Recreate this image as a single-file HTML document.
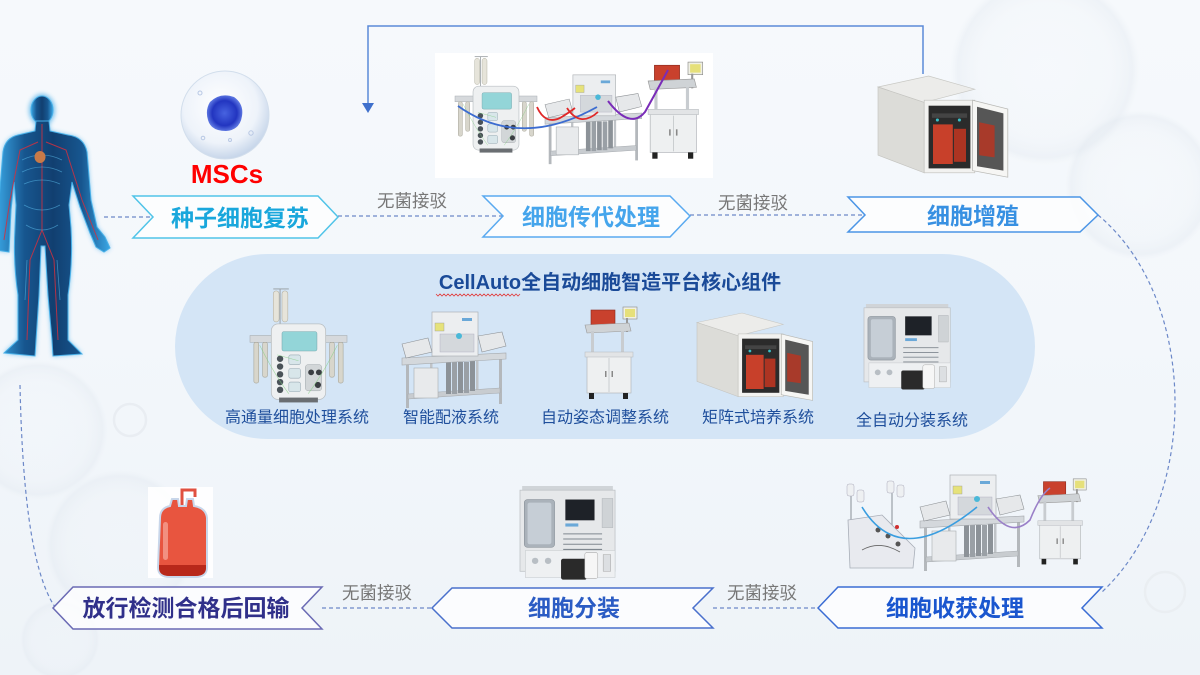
<!DOCTYPE html>
<html><head><meta charset="utf-8"><style>
html,body{margin:0;padding:0;width:1200px;height:675px;overflow:hidden;background:#f4f8fb;}
svg{display:block;}
text{font-family:"Liberation Sans","Noto Sans CJK SC",sans-serif;}
</style></head><body>
<svg width="1200" height="675" viewBox="0 0 1200 675" xmlns="http://www.w3.org/2000/svg">
<defs>
<linearGradient id="bg" x1="0" y1="0" x2="0" y2="1">
<stop offset="0" stop-color="#f6f9fc"/><stop offset="0.5" stop-color="#f3f7fb"/><stop offset="1" stop-color="#eef3f8"/>
</linearGradient>
<radialGradient id="ring" cx="0.5" cy="0.5" r="0.5">
<stop offset="0" stop-color="#eef2f7" stop-opacity="0"/><stop offset="0.7" stop-color="#e8edf3" stop-opacity="0.12"/><stop offset="0.92" stop-color="#dfe6ee" stop-opacity="0.35"/><stop offset="1" stop-color="#e8edf3" stop-opacity="0"/>
</radialGradient>
<linearGradient id="body" x1="0" y1="0" x2="1" y2="0">
<stop offset="0" stop-color="#3aa6e4"/><stop offset="0.25" stop-color="#17568f"/><stop offset="0.5" stop-color="#113f70"/><stop offset="0.75" stop-color="#17568f"/><stop offset="1" stop-color="#3aa6e4"/>
</linearGradient>
<filter id="glow" x="-20%" y="-20%" width="140%" height="140%"><feGaussianBlur stdDeviation="2.5"/></filter>
<radialGradient id="cell" cx="0.45" cy="0.4" r="0.6">
<stop offset="0" stop-color="#ffffff"/><stop offset="0.7" stop-color="#eef3fa"/><stop offset="1" stop-color="#c7d6ea"/>
</radialGradient>
<radialGradient id="nuc" cx="0.5" cy="0.5" r="0.5">
<stop offset="0" stop-color="#4763e0"/><stop offset="0.7" stop-color="#2235c0"/><stop offset="1" stop-color="#5a74e0"/>
</radialGradient>

<g id="P">
 <line x1="24" y1="2" x2="40" y2="2" stroke="#9aa0a4" stroke-width="1"/>
 <line x1="31" y1="2" x2="31" y2="45" stroke="#9aa0a4" stroke-width="1"/>
 <rect x="24" y="4" width="6" height="32" rx="3" fill="#e6e4da" stroke="#b4b2a4" stroke-width="0.6"/>
 <rect x="33" y="4" width="6" height="32" rx="3" fill="#e6e4da" stroke="#b4b2a4" stroke-width="0.6"/>
 <rect x="0" y="50" width="100" height="7" fill="#d6d9dc" stroke="#a8aeb2" stroke-width="0.6"/>
 <rect x="4" y="57" width="5" height="42" rx="2" fill="#d8d6cc" stroke="#a6a498" stroke-width="0.6"/>
 <rect x="13" y="57" width="5" height="36" rx="2" fill="#d8d6cc" stroke="#a6a498" stroke-width="0.6"/>
 <rect x="82" y="57" width="5" height="36" rx="2" fill="#d8d6cc" stroke="#a6a498" stroke-width="0.6"/>
 <rect x="91" y="57" width="5" height="42" rx="2" fill="#d8d6cc" stroke="#a6a498" stroke-width="0.6"/>
 <rect x="22" y="38" width="56" height="78" rx="7" fill="#eef0f1" stroke="#b9bec2" stroke-width="0.8"/>
 <rect x="33" y="46" width="36" height="20" rx="2" fill="#93d5d8" stroke="#7aaab0" stroke-width="0.6"/>
 <circle cx="31" cy="74" r="3.3" fill="#4a5258"/><circle cx="31" cy="82" r="3.3" fill="#4a5258"/>
 <circle cx="31" cy="90" r="3.3" fill="#4a5258"/><circle cx="31" cy="98" r="3.3" fill="#4a5258"/>
 <circle cx="31" cy="106" r="3.3" fill="#4a5258"/>
 <rect x="40" y="70" width="12" height="10" rx="2" fill="#d8e6ea" stroke="#9aaab4" stroke-width="0.6"/>
 <rect x="40" y="84" width="12" height="10" rx="2" fill="#d8e6ea" stroke="#9aaab4" stroke-width="0.6"/>
 <rect x="40" y="98" width="12" height="10" rx="2" fill="#d8e6ea" stroke="#9aaab4" stroke-width="0.6"/>
 <rect x="57" y="80" width="17" height="27" rx="3" fill="#d2d6d8" stroke="#a0a6aa" stroke-width="0.5"/>
 <circle cx="63" cy="88" r="3" fill="#3a3e42"/><circle cx="71" cy="88" r="3" fill="#3a3e42"/><circle cx="70" cy="101" r="3.2" fill="#3a3e42"/>
 <path d="M10 60 Q25 90 40 110 M90 60 Q75 90 60 110 M28 70 L50 76" stroke="#7ccf7c" stroke-width="0.6" fill="none" opacity="0.7"/>
 <rect x="30" y="114" width="40" height="5" fill="#6a6e72"/>
</g>

<g id="T">
 <rect x="4" y="50" width="3" height="48" fill="#b4b8bc"/>
 <rect x="97" y="47" width="3" height="47" fill="#b4b8bc"/>
 <rect x="28" y="50" width="2.5" height="38" fill="#c0c4c8"/>
 <rect x="74" y="48" width="2.5" height="36" fill="#c0c4c8"/>
 <polygon points="6,84 98,78 98,83 6,89" fill="#c8ccd0" stroke="#a4a8ac" stroke-width="0.5"/>
 <rect x="44" y="52" width="5" height="32" fill="#8c9298"/><rect x="50" y="52" width="5" height="32" fill="#9aa0a6"/>
 <rect x="56" y="52" width="5" height="31" fill="#8c9298"/><rect x="62" y="52" width="5" height="31" fill="#9aa0a6"/>
 <rect x="68" y="51" width="5" height="30" fill="#8c9298"/>
 <rect x="12" y="58" width="24" height="30" fill="#e8eaec" stroke="#a8acb0" stroke-width="0.6"/>
 <polygon points="0,48 104,43 104,49 0,55" fill="#d4d8dc" stroke="#a4a8ac" stroke-width="0.6"/>
 <rect x="30" y="2" width="46" height="44" fill="#eceef0" stroke="#aeb2b6" stroke-width="0.7"/>
 <rect x="38" y="24" width="34" height="18" fill="#d4d8dc" stroke="#aab" stroke-width="0.4"/>
 <rect x="33" y="13" width="9" height="8" fill="#e6e27a" stroke="#999" stroke-width="0.4"/>
 <circle cx="57" cy="26" r="3" fill="#4ab8d8"/>
 <rect x="60" y="8" width="10" height="3" fill="#6aa8d8"/>
 <polygon points="0,34 26,28 30,42 4,48" fill="#e6e8ea" stroke="#8e9296" stroke-width="0.6"/>
 <polygon points="76,26 100,22 104,36 80,42" fill="#e6e8ea" stroke="#8e9296" stroke-width="0.6"/>
</g>

<g id="A">
 <rect x="40" y="2" width="14" height="12" fill="#f0f0e4" stroke="#888" stroke-width="0.6"/>
 <rect x="42" y="4" width="10" height="8" fill="#e6e07a"/>
 <rect x="43" y="13" width="2" height="14" fill="#999"/>
 <rect x="8" y="5" width="24" height="16" fill="#c9412d" stroke="#8a2a1e" stroke-width="0.6"/>
 <polygon points="2,20 46,18 48,26 4,28" fill="#cfd3d6" stroke="#999" stroke-width="0.6"/>
 <rect x="8" y="26" width="3" height="26" fill="#c8ccd0"/>
 <rect x="38" y="26" width="3" height="26" fill="#c8ccd0"/>
 <rect x="4" y="50" width="44" height="38" fill="#eef0f1" stroke="#b4b8bc" stroke-width="0.7"/>
 <rect x="2" y="47" width="48" height="5" fill="#e2e4e6" stroke="#b4b8bc" stroke-width="0.5"/>
 <line x1="26" y1="53" x2="26" y2="87" stroke="#b4b8bc" stroke-width="0.6"/>
 <rect x="22" y="66" width="1.5" height="6" fill="#888"/><rect x="28.5" y="66" width="1.5" height="6" fill="#888"/>
 <rect x="6" y="88" width="5" height="6" fill="#222"/><rect x="40" y="88" width="5" height="6" fill="#222"/>
</g>

<g id="I">
 <polygon points="0,10 46,0 88,12 42,24" fill="#ececea" stroke="#c8c8c4" stroke-width="0.6"/>
 <polygon points="0,10 42,24 42,88 0,72" fill="#dcdcd8" stroke="#c4c4c0" stroke-width="0.6"/>
 <rect x="42" y="22" width="46" height="66" fill="#f2f2f0" stroke="#c2c2be" stroke-width="0.6"/>
 <rect x="46" y="27" width="38" height="57" fill="#2b2b2b"/>
 <rect x="49" y="34" width="32" height="4" fill="#444"/>
 <rect x="50" y="44" width="18" height="36" fill="#c8402a"/>
 <rect x="69" y="48" width="11" height="30" fill="#ad3422"/>
 <circle cx="54" cy="40" r="1.4" fill="#3ac0c8"/><circle cx="74" cy="40" r="1.4" fill="#3ac0c8"/>
 <polygon points="86,22 118,30 118,92 86,86" fill="#f6f6f4" stroke="#b8b8b4" stroke-width="0.7"/>
 <polygon points="90,28 114,34 114,86 90,82" fill="#3a3a3a" opacity="0.85"/>
 <polygon points="92,42 106,45 106,74 92,72" fill="#a83a2a"/>
</g>

<g id="D">
 <rect x="2" y="0" width="84" height="6" fill="#d0d4d8"/>
 <rect x="0" y="4" width="88" height="78" fill="#e6e8ea" stroke="#bcc0c4" stroke-width="0.7"/>
 <rect x="4" y="13" width="28" height="46" rx="3" fill="#aab2ba" stroke="#8c949c" stroke-width="0.6"/>
 <rect x="7" y="16" width="22" height="40" rx="2" fill="#c6ced6"/>
 <rect x="42" y="13" width="27" height="20" fill="#1e2228"/>
 <rect x="76" y="12" width="10" height="28" fill="#cfd3d6" stroke="#a8acb0" stroke-width="0.4"/>
 <rect x="42" y="36" width="12" height="3" fill="#6aa8d8"/>
 <g stroke="#808890" stroke-width="1"><line x1="40" y1="46" x2="76" y2="46"/><line x1="40" y1="51" x2="76" y2="51"/><line x1="40" y1="56" x2="76" y2="56"/><line x1="40" y1="61" x2="76" y2="61"/></g>
 <rect x="5" y="62" width="83" height="26" fill="#eef0f2" stroke="#c4c8cc" stroke-width="0.5"/>
 <circle cx="14" cy="72" r="3" fill="#b8bec4"/><circle cx="26" cy="72" r="3" fill="#b8bec4"/>
 <rect x="38" y="70" width="24" height="20" rx="2" fill="#2a2a2a"/>
 <rect x="60" y="64" width="12" height="25" rx="2" fill="#f6f6f6" stroke="#aaa" stroke-width="0.5"/>
 <rect x="77" y="66" width="7" height="16" fill="#dcdfe2" stroke="#999" stroke-width="0.4"/>
</g>
</defs>

<!-- background -->
<rect width="1200" height="675" fill="url(#bg)"/>
<circle cx="1045" cy="70" r="95" fill="url(#ring)"/>
<circle cx="1140" cy="185" r="75" fill="url(#ring)"/>
<circle cx="38" cy="430" r="70" fill="url(#ring)"/>
<circle cx="120" cy="545" r="75" fill="url(#ring)"/>
<circle cx="130" cy="420" r="16" fill="none" stroke="#e9edf2" stroke-width="2.5"/>
<circle cx="1165" cy="592" r="20" fill="none" stroke="#eaeef2" stroke-width="2.5"/>
<circle cx="60" cy="640" r="40" fill="url(#ring)"/>

<!-- central panel -->
<rect x="175" y="254" width="860" height="185" rx="92.5" fill="#d4e5f6"/>
<text x="610" y="283" font-size="20" font-weight="bold" fill="#1a4a98" text-anchor="middle" dominant-baseline="central">CellAuto全自动细胞智造平台核心组件</text>
<path d="M436 294 l2 2 l2 -2 l2 2 l2 -2 l2 2 l2 -2 l2 2 l2 -2 l2 2 l2 -2 l2 2 l2 -2 l2 2 l2 -2 l2 2 l2 -2 l2 2 l2 -2 l2 2 l2 -2 l2 2 l2 -2 l2 2 l2 -2 l2 2 l2 -2 l2 2 l2 -2 l2 2 l2 -2 l2 2 l2 -2 l2 2 l2 -2 l2 2 l2 -2 l2 2 l2 -2 l2 2 l2 -2 l2 2 l2 -2" stroke="#e03a3a" stroke-width="0.8" fill="none"/>

<use href="#P" transform="translate(250,287) scale(0.97)"/>
<use href="#T" transform="translate(402,310)"/>
<use href="#A" transform="translate(583,305)"/>
<use href="#I" transform="translate(697,313) scale(0.98,0.95)"/>
<use href="#D" transform="translate(864,304) scale(0.98,0.95)"/>

<g font-size="16" fill="#1f4f9c" text-anchor="middle" dominant-baseline="central">
<text x="297" y="418">高通量细胞处理系统</text>
<text x="451" y="418">智能配液系统</text>
<text x="605" y="418">自动姿态调整系统</text>
<text x="758" y="418">矩阵式培养系统</text>
<text x="912" y="421">全自动分装系统</text>
</g>

<!-- return arrow top -->
<polyline points="923,74 923,26 368,26 368,104" fill="none" stroke="#5b8ad8" stroke-width="1.5"/>
<polygon points="362,103 374,103 368,113" fill="#3f70cc"/>

<!-- top image box -->
<rect x="435" y="53" width="278" height="125" fill="#ffffff"/>
<use href="#P" transform="translate(455,55) scale(0.82)"/>
<use href="#T" transform="translate(545,73) scale(0.93)"/>
<use href="#A" transform="translate(646,60) scale(1.05)"/>
<path d="M458 106 Q520 150 597 107" stroke="#3c6cd0" stroke-width="1.8" fill="none"/>
<path d="M537 107 Q545 125 560 118 Q570 112 575 108" stroke="#e02828" stroke-width="1.8" fill="none"/>
<path d="M567 108 Q580 128 598 112" stroke="#e02828" stroke-width="1.8" fill="none"/>
<path d="M608 101 Q630 130 645 112 Q660 85 668 70" stroke="#7a2cb8" stroke-width="2" fill="none"/>

<!-- top right incubator -->
<use href="#I" transform="translate(878,76) scale(1.1)"/>

<!-- human figure -->
<g>
<g filter="url(#glow)" opacity="0.7">
<ellipse cx="42" cy="110" rx="13" ry="16" fill="#3aa8e8"/>
<path d="M36,121 L35,131 L18,135 Q5,138 3,152 L-1,200 L-4,250 L9,252 L11,210 L14,182 L16,205 L15,228 Q13,262 18,295 L18,340 L4,353 L35,356 L36,340 L39,295 L41,246 L45,246 L48,295 L52,340 L53,356 L82,354 L68,340 L68,295 Q73,262 71,228 L69,205 L72,182 L80,207 L90,233 L96,247 L104,252 L110,248 L105,237 L97,227 L91,200 L87,152 Q84,137 68,135 L50,131 L49,121 Z" fill="#3aa8e8"/>
</g>
<ellipse cx="42" cy="110" rx="11" ry="14" fill="url(#body)" stroke="#48b0e8" stroke-width="1"/>
<path d="M36,121 L35,131 L18,135 Q5,138 3,152 L-1,200 L-4,250 L9,252 L11,210 L14,182 L16,205 L15,228 Q13,262 18,295 L18,340 L4,353 L35,356 L36,340 L39,295 L41,246 L45,246 L48,295 L52,340 L53,356 L82,354 L68,340 L68,295 Q73,262 71,228 L69,205 L72,182 L80,207 L90,233 L96,247 L104,252 L110,248 L105,237 L97,227 L91,200 L87,152 Q84,137 68,135 L50,131 L49,121 Z" fill="url(#body)" stroke="#48b0e8" stroke-width="1"/>
<g stroke="#d03040" stroke-width="1" fill="none" opacity="0.85">
<path d="M42 140 L42 230 L30 260 L27 340 M42 230 L54 260 L58 340"/>
<path d="M38 142 L20 150 L10 200 L4 240 M46 142 L66 150 L82 200 L98 240"/>
<path d="M42 124 L42 140"/>
</g>
<g stroke="#5cc0ee" stroke-width="0.8" fill="none" opacity="0.55">
<path d="M22 160 Q42 150 62 160 M22 172 Q42 162 62 172 M24 184 Q42 176 60 184 M24 205 Q42 215 60 205 M26 225 Q42 235 58 225"/>
<path d="M27 260 L25 300 M57 260 L60 300"/>
</g>
<ellipse cx="40" cy="157" rx="5.5" ry="6" fill="#c87a48"/>
</g>

<!-- MSC cell -->
<circle cx="225" cy="115" r="44" fill="url(#cell)" stroke="#d2deec" stroke-width="1"/>
<path d="M210 102 Q220 92 234 97 Q244 104 242 116 Q240 130 226 131 Q211 131 208 120 Q205 110 210 102 Z" fill="url(#nuc)"/>
<circle cx="200" cy="93" r="2" fill="none" stroke="#b8c8e4" stroke-width="1"/>
<circle cx="251" cy="133" r="2.2" fill="none" stroke="#b8c8e4" stroke-width="1"/>
<circle cx="203" cy="138" r="1.8" fill="none" stroke="#b8c8e4" stroke-width="1"/>
<circle cx="230" cy="140" r="1.5" fill="none" stroke="#b8c8e4" stroke-width="1"/>
<text x="227" y="174" font-size="26" font-weight="bold" fill="#ff0000" text-anchor="middle" dominant-baseline="central">MSCs</text>

<!-- connectors -->
<g stroke="#6c88c8" stroke-width="1.2" stroke-dasharray="4,3" fill="none">
<line x1="104" y1="217" x2="153" y2="217"/>
<line x1="338" y1="216" x2="503" y2="216"/>
<line x1="690" y1="215" x2="865" y2="215"/>
<line x1="322" y1="608" x2="432" y2="608"/>
<line x1="713" y1="608" x2="818" y2="608"/>
<path d="M1098,215 C1200,300 1200,500 1102,592"/>
<path d="M20,385 C22,480 30,570 55,607"/>
</g>
<g font-size="17.5" fill="#777777" text-anchor="middle" dominant-baseline="central">
<text x="412" y="201">无菌接驳</text>
<text x="753" y="203">无菌接驳</text>
<text x="377" y="593">无菌接驳</text>
<text x="762" y="593">无菌接驳</text>
</g>

<!-- chevrons top -->
<polygon points="133,196 318,196 338,217 318,238 133,238 153,217" fill="#ffffff" fill-opacity="0.75" stroke="#50c4e8" stroke-width="1.5"/>
<polygon points="483,196 670,196 690,216 670,237 483,237 503,216" fill="#ffffff" fill-opacity="0.75" stroke="#5aaaf0" stroke-width="1.5"/>
<polygon points="848,197 1080,197 1098,215 1080,232 848,232 865,215" fill="#ffffff" fill-opacity="0.75" stroke="#4b95e6" stroke-width="1.5"/>
<!-- chevrons bottom -->
<polygon points="818,608 838,587 1102,587 1082,608 1102,628 838,628" fill="#ffffff" fill-opacity="0.75" stroke="#3a6cd4" stroke-width="1.5"/>
<polygon points="432,608 452,588 713,588 693,608 713,628 452,628" fill="#ffffff" fill-opacity="0.75" stroke="#4a70cc" stroke-width="1.5"/>
<polygon points="53,608 73,587 322,587 302,608 322,629 73,629" fill="#ffffff" fill-opacity="0.75" stroke="#6a6ab4" stroke-width="1.5"/>

<g font-size="23" font-weight="bold" text-anchor="middle" dominant-baseline="central">
<text x="240" y="218" fill="#19a7dc">种子细胞复苏</text>
<text x="591" y="217" fill="#45a5ec">细胞传代处理</text>
<text x="973" y="216" fill="#3790e2">细胞增殖</text>
<text x="955" y="608" fill="#1a56cf">细胞收获处理</text>
<text x="574" y="608" fill="#2b5cc4">细胞分装</text>
<text x="186" y="608" fill="#30308a">放行检测合格后回输</text>
</g>

<!-- blood bag -->
<rect x="148" y="487" width="65" height="91" fill="#ffffff" opacity="0.9"/>
<path d="M182 506 L182 490 L195 490 L195 497" stroke="#e05040" stroke-width="3" fill="none"/>
<path d="M160,518 Q160,508 170,506 L172,499 L178,499 L179,506 L186,506 L187,499 L193,499 L194,506 Q206,508 207,518 L207,567 Q207,577 195,577 L170,577 Q158,577 158,567 Z" fill="#e8553f" stroke="#c8d6ea" stroke-width="2"/>
<path d="M159,565 L206,565 L206,568 Q206,576 195,576 L170,576 Q159,576 159,568 Z" fill="#b8281a"/>
<rect x="163" y="522" width="5" height="38" rx="2.5" fill="#f29080"/>

<!-- bottom dispenser -->
<use href="#D" transform="translate(520,486) scale(1.08,1.04)"/>

<!-- harvest group -->
<g>
 <line x1="851" y1="485" x2="851" y2="540" stroke="#9aa0a6" stroke-width="1.2"/>
 <line x1="892" y1="482" x2="892" y2="540" stroke="#9aa0a6" stroke-width="1.2"/>
 <rect x="847" y="484" width="7" height="12" rx="2" fill="#eef0f2" stroke="#aab" stroke-width="0.5"/>
 <rect x="857" y="490" width="7" height="12" rx="2" fill="#eef0f2" stroke="#aab" stroke-width="0.5"/>
 <rect x="887" y="481" width="7" height="12" rx="2" fill="#eef0f2" stroke="#aab" stroke-width="0.5"/>
 <rect x="897" y="485" width="7" height="12" rx="2" fill="#eef0f2" stroke="#aab" stroke-width="0.5"/>
 <polygon points="848,520 882,515 915,548 913,568 850,568" fill="#e8eaef" stroke="#a8aeb8" stroke-width="0.8"/>
 <circle cx="878" cy="530" r="2.5" fill="#555"/><circle cx="888" cy="536" r="2.5" fill="#555"/><circle cx="898" cy="544" r="2.5" fill="#555"/>
 <circle cx="897" cy="527" r="2" fill="#d03030"/>
 <path d="M862 550 Q880 540 900 552" stroke="#666" stroke-width="0.8" fill="none"/>
</g>
<use href="#T" transform="translate(920,473)"/>
<use href="#A" transform="translate(1036,477) scale(0.93)"/>
<path d="M862 507 Q900 570 977 507" stroke="#3a9ee0" stroke-width="1.6" fill="none"/>
<path d="M988 507 Q1010 540 1030 520 Q1040 495 1050 488" stroke="#9a80c8" stroke-width="1.6" fill="none"/>
</svg>
</body></html>
